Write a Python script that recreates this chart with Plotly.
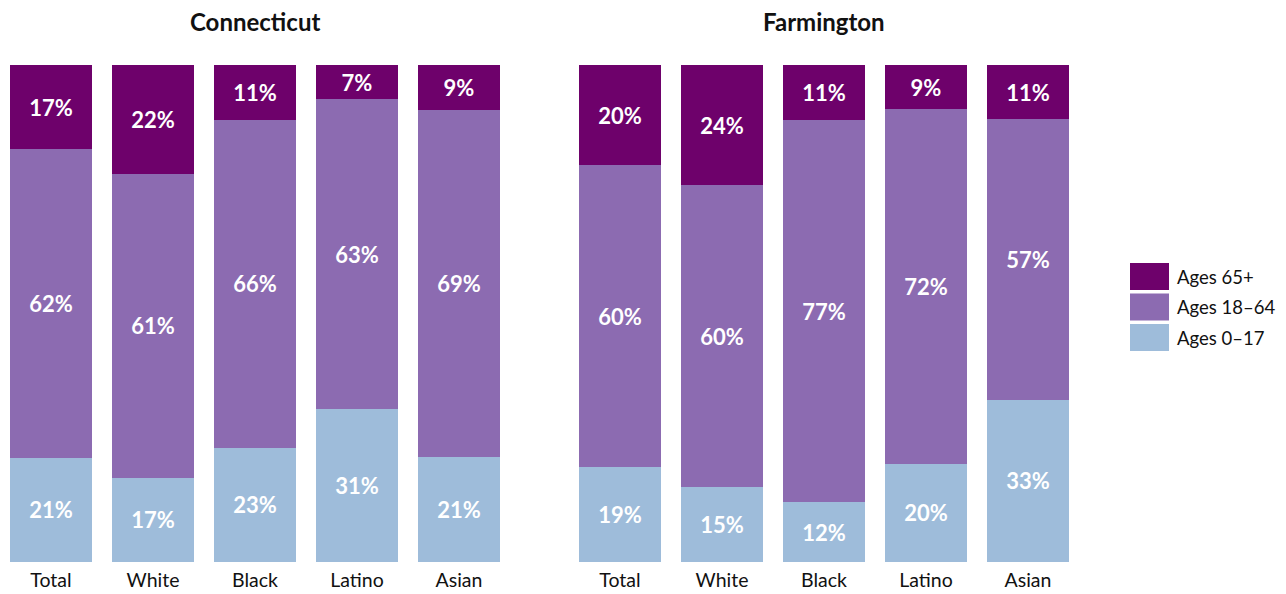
import plotly.graph_objects as go
from plotly.subplots import make_subplots

categories = ["Total", "White", "Black", "Latino", "Asian"]
regions = ["Connecticut", "Farmington"]
series_names = ["Ages 0\u201317", "Ages 18\u201364", "Ages 65+"]
colors = ["#9EBCDA", "#8C6BB1", "#6E016B"]

ct_0_17 = [21, 17, 23, 31, 21]
ct_18_64 = [62, 61, 66, 63, 69]
ct_65 = [17, 22, 11, 7, 9]
fa_0_17 = [19, 15, 12, 20, 33]
fa_18_64 = [60, 60, 77, 72, 57]
fa_65 = [20, 24, 11, 9, 11]

data = [[ct_0_17, ct_18_64, ct_65], [fa_0_17, fa_18_64, fa_65]]

FONT = "Lato"
OFF = 8  # page body margin
W, H = 1286 - OFF, 594 - OFF
PLOT_TOP, PLOT_BOT = 65 - OFF, 562 - OFF
plot_h = PLOT_BOT - PLOT_TOP


def px(x):
    return (x - OFF) / W


def py(y):
    return (562 - y) / plot_h


fig = make_subplots(rows=1, cols=2)
for ci, region in enumerate(data):
    for si, vals in enumerate(region):
        fig.add_trace(go.Bar(
            x=categories, y=vals, name=series_names[si],
            marker=dict(color=colors[si], line=dict(width=0)),
            text=[f"{v}%" for v in vals], textposition="inside",
            insidetextanchor="middle", constraintext="none",
            textfont=dict(family=FONT, size=22, color="white", weight="bold"),
            hoverinfo="skip", showlegend=False,
        ), row=1, col=ci + 1)

fig.update_layout(
    width=W, height=H, barmode="stack", barnorm="percent", bargap=0.196,
    margin=dict(l=0, r=0, t=PLOT_TOP, b=H - PLOT_BOT),
    plot_bgcolor="white", paper_bgcolor="white",
    font=dict(family=FONT, color="#111111"),
    showlegend=False,
)
fig.update_xaxes(showgrid=False, showline=False, ticks="", zeroline=False,
                 ticklabelstandoff=4,
                 tickfont=dict(family=FONT, size=19.5, color="#111111"))
fig.update_yaxes(visible=False, range=[0, 100])
left_px = 510 - OFF
fig.update_layout(
    xaxis=dict(domain=[0, left_px / W], range=[4.5 - left_px / 102, 4.5]),
    xaxis2=dict(domain=[px(569), px(1079)], range=[-0.5, 4.5]),
)

# subplot titles
for cx, name in [(255, regions[0]), (824, regions[1])]:
    fig.add_annotation(x=px(cx), y=py(22), xref="paper", yref="paper",
                       text=f"<b>{name}</b>", showarrow=False, xanchor="center", yanchor="middle",
                       font=dict(family=FONT, size=24, color="#111111"))

# legend (top to bottom: 65+, 18-64, 0-17)
for k, si in enumerate([2, 1, 0]):
    top = 263 + k * 30.5
    bot = top + 27
    fig.add_shape(type="rect", xref="paper", yref="paper",
                  x0=px(1130), x1=px(1169), y0=py(bot), y1=py(top),
                  fillcolor=colors[si], line=dict(width=0))
    fig.add_annotation(x=px(1175), y=py((top + bot) / 2), xref="paper", yref="paper",
                       text=series_names[si], showarrow=False, xanchor="left", yanchor="middle",
                       font=dict(family=FONT, size=18.5, color="#111111"))

fig.write_html("out.html")
